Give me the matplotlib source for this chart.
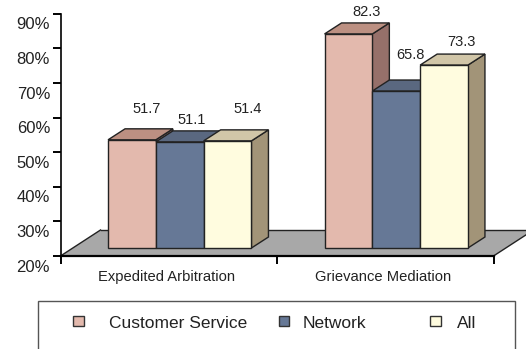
import matplotlib
matplotlib.use('Agg')
import matplotlib.pyplot as plt
from matplotlib.patches import Rectangle

plt.rcParams['font.family'] = ['Liberation Sans', 'DejaVu Sans']

categories = ['Expedited Arbitration', 'Grievance Mediation']
series_names = ['Customer Service', 'Network', 'All']
customer_service = [51.7, 82.3]
network = [51.1, 65.8]
all_values = [51.4, 73.3]
yticks = [20, 30, 40, 50, 60, 70, 80, 90]
ytick_labels = ['20%', '30%', '40%', '50%', '60%', '70%', '80%', '90%']

front_colors = ['#E3B9AD', '#667896', '#FFFCDF']
top_colors = ['#BC9082', '#5A6880', '#D1C6A8']
side_colors = ['#96706A', '#4E5A6E', '#A29478']
edge = '#222222'

W, H = 526, 349
PX_X = 216.5     # pixels per category
PX_Y = 3.46      # pixels per percent

fig = plt.figure(figsize=(W / 100, H / 100), dpi=100)
ax_left, ax_bottom = 60.5, 256
ax = fig.add_axes([ax_left / W, (H - ax_bottom) / H, (W - ax_left) / W, ax_bottom / H])
ax.set_xlim(-0.5, -0.5 + (W - ax_left) / PX_X)
ax.set_ylim(20, 20 + ax_bottom / PX_Y)
ax.patch.set_alpha(0)

# 3d look: depth of the floor / of the bars, in data units
floor_dx, floor_dy = 40 / PX_X, 26 / PX_Y
front_dx, front_dy = 11 / PX_X, 6.5 / PX_Y
bar_dx, bar_dy = 17 / PX_X, 11 / PX_Y
bar_w = 47.8 / PX_X

# floor
ax.fill([-0.5, 1.5, 1.5 + floor_dx, -0.5 + floor_dx],
        [20, 20, 20 + floor_dy, 20 + floor_dy],
        fc='#A8A8A8', ec='none', zorder=1)
ax.plot([-0.5 + floor_dx, 1.5 + floor_dx], [20 + floor_dy] * 2, color=edge, lw=1, zorder=1.2)
ax.plot([-0.5, -0.5 + floor_dx], [20, 20 + floor_dy], color=edge, lw=1, zorder=1.2)
ax.plot([1.5, 1.5 + floor_dx], [20, 20 + floor_dy], color=edge, lw=1, zorder=1.2)

values = [customer_service, network, all_values]
label_offsets = [[(15, 30.5), (18, 21.5)], [(12, 21.5), (14, 36.5)], [(20, 31.5), (17.5, 23.5)]]
base = 20 + 8 / PX_Y

z = 2
for g in range(len(categories)):
    for s in range(3):
        v = values[s][g]
        x0 = g + front_dx + (s - 1.5) * bar_w
        top = v + front_dy
        ax.fill([x0 + bar_w, x0 + bar_w + bar_dx, x0 + bar_w + bar_dx, x0 + bar_w],
                [base, base + bar_dy, top + bar_dy, top],
                fc=side_colors[s], ec=edge, lw=1, zorder=z)
        ax.fill([x0, x0 + bar_w, x0 + bar_w + bar_dx, x0 + bar_dx],
                [top, top, top + bar_dy, top + bar_dy],
                fc=top_colors[s], ec=edge, lw=1, zorder=z)
        ax.bar(x0, top - base, bar_w, bottom=base, align='edge',
               color=front_colors[s], edgecolor=edge, lw=1, zorder=z + 0.5)
        ox, oy = label_offsets[s][g]
        ax.annotate(f'{v:.1f}', (x0 + bar_w / 2, top), xytext=(ox * 0.72, oy * 0.72),
                    textcoords='offset points', ha='center', va='center',
                    fontsize=10.5, color='#222222', zorder=20)
        z += 1

# axes
for side in ['top', 'right']:
    ax.spines[side].set_visible(False)
ax.spines['left'].set_bounds(20, 90)
ax.spines['bottom'].set_bounds(-0.5, 1.5)
ax.spines['left'].set_linewidth(1.2)
ax.spines['bottom'].set_linewidth(1.6)
ax.spines['left'].set_zorder(30)
ax.spines['bottom'].set_zorder(30)

ax.set_yticks(yticks)
ax.set_yticklabels([])
ax.tick_params(axis='y', length=5.5, width=1.4, color='black')
for t, lab in zip(yticks, ytick_labels):
    ax.annotate(lab, (-0.5, t), xytext=(-7.5, -8), textcoords='offset points',
                ha='right', va='center', fontsize=12, color='#222222', annotation_clip=False)

ax.set_xticks([-0.5, 0.5, 1.5])
ax.set_xticklabels([])
ax.tick_params(axis='x', length=5.5, width=1.4, color='black')
for i, c in enumerate(categories):
    ax.annotate(c, (i, 20), xytext=(-1.5, -15), textcoords='offset points', ha='center',
                va='center', fontsize=10.6, color='#222222', annotation_clip=False)

# legend box, runs off the bottom of the picture
def fx(px):
    return px / W

def fy(py):
    return (H - py) / H

fig.add_artist(Rectangle((fx(38), fy(360)), fx(477), fy(301) - fy(360), fc='white',
                         ec='#555555', lw=1, transform=fig.transFigure, clip_on=False))
swatches = [73, 278.5, 430]
text_x = [109, 303, 457]
for s, name in enumerate(series_names):
    fig.add_artist(Rectangle((fx(swatches[s]), fy(325.5)), fx(10.5), fy(316) - fy(325.5),
                             fc=front_colors[s], ec='#333333', lw=1, transform=fig.transFigure))
    fig.text(fx(text_x[s]), fy(323.5), name, ha='left', va='center', fontsize=12.5, color='#222222')

fig.savefig('out.png', dpi=100)
